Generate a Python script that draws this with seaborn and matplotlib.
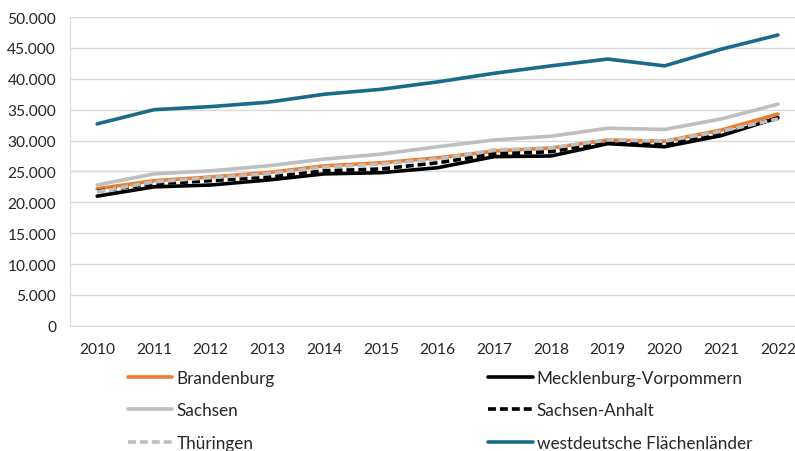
import numpy as np
import pandas as pd
import matplotlib
matplotlib.use("Agg")
import matplotlib.pyplot as plt
from matplotlib.ticker import FuncFormatter, MultipleLocator
import seaborn as sns

years = list(range(2010, 2023))

brandenburg = [22200, 23500, 24100, 24800, 25900, 26400, 27200, 28300, 28800, 30100, 29900, 31700, 34300]
mecklenburg = [21000, 22500, 22800, 23600, 24600, 24800, 25600, 27400, 27500, 29500, 29000, 30800, 33700]
sachsen = [22800, 24600, 25100, 25900, 27000, 27800, 29000, 30100, 30700, 32000, 31800, 33500, 35900]
sachsen_anhalt = [21800, 23000, 23500, 24100, 25100, 25400, 26400, 27800, 28200, 29800, 29400, 31200, 33600]
thueringen = [21700, 23300, 24000, 24600, 25700, 26200, 27000, 28500, 28800, 30100, 29900, 31500, 33500]
westdeutsch = [32700, 35000, 35500, 36200, 37500, 38300, 39500, 40900, 42100, 43200, 42100, 44800, 47100]

names = ["Brandenburg", "Mecklenburg-Vorpommern", "Sachsen", "Sachsen-Anhalt",
         "Thüringen", "westdeutsche Flächenländer"]
series = [brandenburg, mecklenburg, sachsen, sachsen_anhalt, thueringen, westdeutsch]
colors = ["#ED7D31", "#000000", "#BFBFBF", "#000000", "#BFBFBF", "#1B6A8A"]
styles = ["-", "-", "-", (0, (2.2, 1.1)), (0, (2.2, 1.1)), "-"]

sns.set_style("white")
plt.rcParams['font.family'] = ['Lato', 'DejaVu Sans']

fig = plt.figure(figsize=(7.95, 4.52), dpi=100)
ax = fig.add_axes([0.088, 0.277, 0.912, 0.683])

for name, vals, col, ls in zip(names, series, colors, styles):
    df = pd.DataFrame({"Jahr": years, "Wert": vals})
    sns.lineplot(data=df, x="Jahr", y="Wert", ax=ax, color=col, linestyle=ls,
                 linewidth=2.6, label=name, legend=False)

ax.set_xlim(2009.52, 2022.3)
ax.set_ylim(0, 50000)
ax.yaxis.set_major_locator(MultipleLocator(5000))
ax.yaxis.set_major_formatter(FuncFormatter(lambda v, p: f"{v:,.0f}".replace(",", ".")))
ax.set_xticks(years)
ax.set_xlabel("")
ax.set_ylabel("")
ax.grid(axis="y", color="#D9D9D9", linewidth=1)
ax.set_axisbelow(True)
for s in ["top", "right"]:
    ax.spines[s].set_visible(False)
ax.spines["left"].set_color("#D9D9D9")
ax.spines["bottom"].set_color("#D9D9D9")
ax.tick_params(axis="both", length=0, labelsize=11.2, labelcolor="#262626")
ax.tick_params(axis="y", pad=10)
ax.tick_params(axis="x", pad=12)

handles, labels = ax.get_legend_handles_labels()
leg_kw = dict(frameon=False, fontsize=12.3, handlelength=2.6, handletextpad=0.25,
              labelspacing=0.95, borderpad=0, borderaxespad=0, loc="upper left",
              labelcolor="#262626")
fig.legend([handles[0], handles[2], handles[4]], [labels[0], labels[2], labels[4]],
           bbox_to_anchor=(0.161, 0.179), **leg_kw)
fig.legend([handles[1], handles[3], handles[5]], [labels[1], labels[3], labels[5]],
           bbox_to_anchor=(0.614, 0.179), **leg_kw)

fig.savefig("out.png", dpi=100)
